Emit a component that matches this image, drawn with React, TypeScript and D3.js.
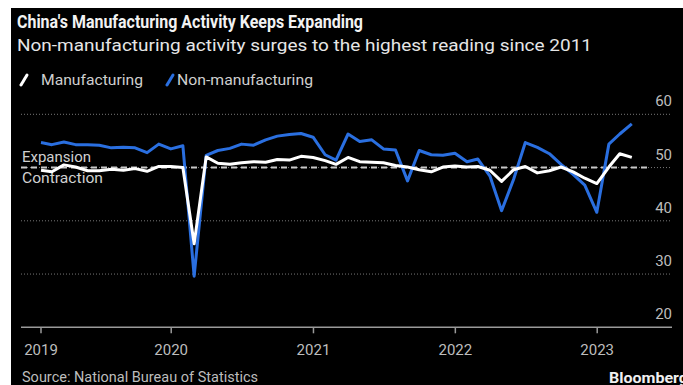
import React from "react";
import * as d3 from "d3";

const manufacturing = [
  49.5, 49.2, 50.5, 50.1, 49.4, 49.4, 49.7, 49.5, 49.8, 49.3, 50.2, 50.2,
  50.0, 35.7, 52.0, 50.8, 50.6, 50.9, 51.1, 51.0, 51.5, 51.4, 52.1, 51.9,
  51.3, 50.6, 51.9, 51.1, 51.0, 50.9, 50.4, 50.1, 49.6, 49.2, 50.1, 50.3,
  50.1, 50.2, 49.5, 47.4, 49.6, 50.2, 49.0, 49.4, 50.1, 49.2, 48.0, 47.0,
  50.1, 52.6, 51.9,
];
const nonManufacturing = [
  54.7, 54.3, 54.8, 54.3, 54.3, 54.2, 53.7, 53.8, 53.7, 52.8, 54.4, 53.5,
  54.1, 29.6, 52.3, 53.2, 53.6, 54.4, 54.2, 55.2, 55.9, 56.2, 56.4, 55.7,
  52.4, 51.4, 56.3, 54.9, 55.2, 53.5, 53.3, 47.5, 53.2, 52.4, 52.3, 52.7,
  51.1, 51.6, 48.4, 41.9, 47.8, 54.7, 53.8, 52.6, 50.6, 48.7, 46.7, 41.6,
  54.4, 56.3, 58.2,
];
const startYear = 2019;
const xTickDates = ["2019-01-31", "2020-01-01", "2021-01-01", "2022-01-01", "2023-01-01"];
const xTickLabels = ["2019", "2020", "2021", "2022", "2023"];
const yTicks = [20, 30, 40, 50, 60];
const threshold = 50;

const W = 683;
const H = 385;
const FONT = "'Liberation Sans Narrow', Roboto, 'Noto Sans', sans-serif";

export default function App() {
  // month-end dates
  const dates = manufacturing.map((_, i) => new Date(startYear, i + 1, 0));
  const x = d3
    .scaleTime()
    .domain([dates[0], dates[dates.length - 1]])
    .range([41, 631.8]);
  const y = d3.scaleLinear().domain([20, 60]).range([327.3, 114.3]);
  const left = 21;
  const right = 672;

  const line = d3
    .line<number>()
    .x((_, i) => x(dates[i]))
    .y((d) => y(d));

  const parse = d3.timeParse("%Y-%m-%d");

  return (
    <svg
      width={W}
      height={H}
      style={{ position: "absolute", left: 0, top: 0, display: "block" }}
      fontFamily={FONT}
    >
      <rect x={0} y={0} width={W} height={H} fill="#fff" />
      <rect x={11} y={8} width={W - 11} height={H - 8} fill="#000" />

      {/* Titles */}
      <text x={17} y={28} fill="#f2f2f2" fontSize={19} fontWeight="bold" textLength={346} lengthAdjust="spacingAndGlyphs">
        China's Manufacturing Activity Keeps Expanding
      </text>
      <text x={17} y={51} fill="#e6e6e6" fontSize={17} textLength={575} lengthAdjust="spacingAndGlyphs">
        Non-manufacturing activity surges to the highest reading since 2011
      </text>

      {/* Legend */}
      <line x1={21} y1={85} x2={27} y2={75} stroke="#fff" strokeWidth={3} strokeLinecap="round" />
      <text x={41} y={85} fill="#cfcfcf" fontSize={15} textLength={102} lengthAdjust="spacingAndGlyphs">
        Manufacturing
      </text>
      <line x1={167} y1={85} x2={173} y2={75} stroke="#2a6fe0" strokeWidth={3} strokeLinecap="round" />
      <text x={177} y={85} fill="#cfcfcf" fontSize={15} textLength={136} lengthAdjust="spacingAndGlyphs">
        Non-manufacturing
      </text>

      {/* Gridlines */}
      {yTicks
        .filter((t) => t !== 20)
        .map((t) => (
          <line key={t} x1={left} x2={right} y1={y(t)} y2={y(t)} stroke="#777" strokeWidth={1} strokeDasharray="1,2" />
        ))}
      {yTicks.map((t) => (
        <text key={"l" + t} x={right} y={y(t) - 8} fill="#bdbdbd" fontSize={15} textAnchor="end" fontFamily="Roboto, sans-serif">
          {t}
        </text>
      ))}

      {/* Threshold */}
      <line x1={left} x2={647} y1={y(threshold)} y2={y(threshold)} stroke="#c8c8c8" strokeWidth={2} strokeDasharray="6,4" />
      <text x={22} y={162} fill="#d0d0d0" fontSize={15} textLength={69} lengthAdjust="spacingAndGlyphs">
        Expansion
      </text>
      <text x={22} y={183} fill="#d0d0d0" fontSize={15} textLength={81} lengthAdjust="spacingAndGlyphs">
        Contraction
      </text>

      {/* Series */}
      <path d={line(nonManufacturing) || ""} fill="none" stroke="#2a6fe0" strokeWidth={3} strokeLinejoin="round" />
      <path d={line(manufacturing) || ""} fill="none" stroke="#ffffff" strokeWidth={3} strokeLinejoin="round" />

      {/* X axis */}
      <line x1={left} x2={right} y1={y(20)} y2={y(20)} stroke="#9a9a9a" strokeWidth={1.5} />
      {xTickDates.map((d, i) => {
        const xx = x(parse(d) as Date);
        return (
          <g key={d}>
            <line x1={xx} x2={xx} y1={y(20)} y2={y(20) + 6} stroke="#9a9a9a" strokeWidth={1.5} />
            <text x={xx} y={355} fill="#bdbdbd" fontSize={15} textAnchor="middle" fontFamily="Roboto, sans-serif">
              {xTickLabels[i]}
            </text>
          </g>
        );
      })}

      {/* Footer */}
      <text x={22} y={382} fill="#bdbdbd" fontSize={14} textLength={236} lengthAdjust="spacingAndGlyphs">
        Source: National Bureau of Statistics
      </text>
      <text x={609} y={383} fill="#f0f0f0" fontSize={15} fontWeight="bold" textLength={79} lengthAdjust="spacingAndGlyphs">
        Bloomberg
      </text>
    </svg>
  );
}
